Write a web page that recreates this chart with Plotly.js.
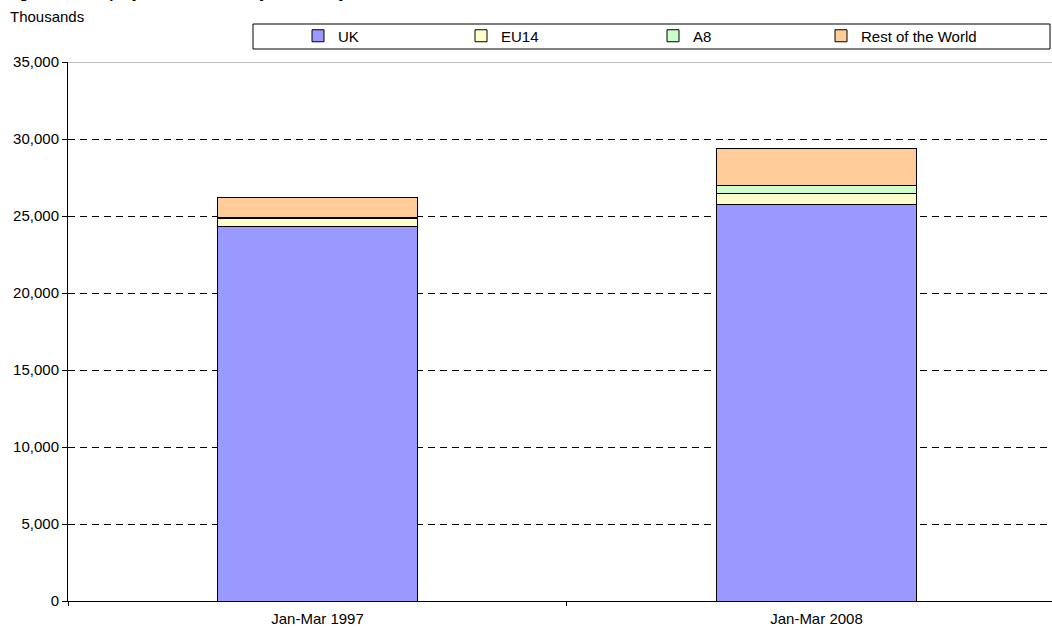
<!DOCTYPE html>
<html>
<head>
<meta charset="utf-8">
<script src="https://cdn.plot.ly/plotly-3.0.1.min.js"></script>
<style>
  html, body { margin: 0; padding: 0; background: #ffffff; overflow: hidden; }
  #chart { width: 1052px; height: 628px; }
</style>
</head>
<body>
<div id="chart"></div>
<script>
// ---- Data (thousands) ----
const categories = ["Jan-Mar 1997", "Jan-Mar 2008"];
const seriesNames = ["UK", "EU14", "A8", "Rest of the World"];
const ukValues = [24290, 25730];
const eu14Values = [540, 700];
const a8Values = [70, 520];
const rowValues = [1310, 2450];
const yTicks = [0, 5000, 10000, 15000, 20000, 25000, 30000, 35000];

const colors = ["#9999FF", "#FFFFCC", "#CCFFCC", "#FFCC99"];
const valueSets = [ukValues, eu14Values, a8Values, rowValues];
const legendIds = ["legend", "legend2", "legend3", "legend4"];
const legendX = [298, 461, 653, 821];

const FONT = "Arial, 'Liberation Sans', sans-serif";
const FS = 15;

const traces = valueSets.map((vals, i) => ({
  type: "bar",
  name: seriesNames[i],
  x: categories,
  y: vals,
  width: 0.4,
  legend: legendIds[i],
  marker: { color: colors[i], line: { color: "#000000", width: 1 } },
  hoverinfo: "x+y+name"
}));

const layout = {
  width: 1052,
  height: 628,
  barmode: "stack",
  paper_bgcolor: "#ffffff",
  plot_bgcolor: "#ffffff",
  font: { family: FONT, size: FS, color: "#000000" },
  margin: { l: 68, r: 0, t: 62, b: 27, pad: 0 },
  xaxis: {
    type: "category",
    range: [-0.5, 1.472],
    showgrid: false,
    zeroline: false,
    showline: true,
    linecolor: "#000000",
    linewidth: 1,
    ticks: "outside",
    tickson: "boundaries",
    ticklen: 4,
    tickcolor: "#000000",
    ticklabelstandoff: 4,
    tickfont: { family: FONT, size: FS, color: "#000000" }
  },
  yaxis: {
    range: [0, 35000],
    tickvals: yTicks,
    tickformat: ",d",
    showgrid: true,
    gridcolor: "#000000",
    gridwidth: 1,
    griddash: "7px,5px",
    zeroline: false,
    showline: true,
    linecolor: "#000000",
    linewidth: 1,
    ticks: "outside",
    ticklen: 5,
    tickcolor: "#000000",
    tickfont: { family: FONT, size: FS, color: "#000000" }
  },
  shapes: [
    // plot-area top border
    { type: "line", xref: "paper", yref: "y", x0: 0, x1: 1, y0: 35000, y1: 35000,
      line: { color: "#808080", width: 1 } },
    // legend frame
    { type: "rect", xref: "paper", yref: "paper",
      x0: (253 - 68) / 984, x1: (1050 - 68) / 984,
      y0: 1 + (62 - 49) / 539, y1: 1 + (62 - 24) / 539,
      line: { color: "#000000", width: 1 }, fillcolor: "rgba(0,0,0,0)" }
  ],
  annotations: [
    { text: "Thousands", xref: "paper", yref: "paper", x: -60 / 984, y: 1 + (62 - 17) / 539,
      xanchor: "left", yanchor: "middle", showarrow: false,
      font: { family: FONT, size: FS, color: "#000000" } },
    { text: "<b>Figure 2.1: Employment in the UK by nationality</b>", xref: "paper", yref: "paper",
      x: -64 / 984, y: 1 + (62 - 3) / 539,
      xanchor: "left", yanchor: "bottom", showarrow: false,
      font: { family: FONT, size: 15, color: "#000000" } }
  ],
  showlegend: true
};

legendIds.forEach((id, i) => {
  layout[id] = {
    orientation: "h",
    xref: "container", yref: "container",
    x: legendX[i] / 1052, y: 1 - 36 / 628,
    xanchor: "left", yanchor: "middle",
    bgcolor: "rgba(0,0,0,0)",
    borderwidth: 0,
    font: { family: FONT, size: FS, color: "#000000" }
  };
});

Plotly.newPlot("chart", traces, layout, { displayModeBar: false, staticPlot: true });
</script>
</body>
</html>
